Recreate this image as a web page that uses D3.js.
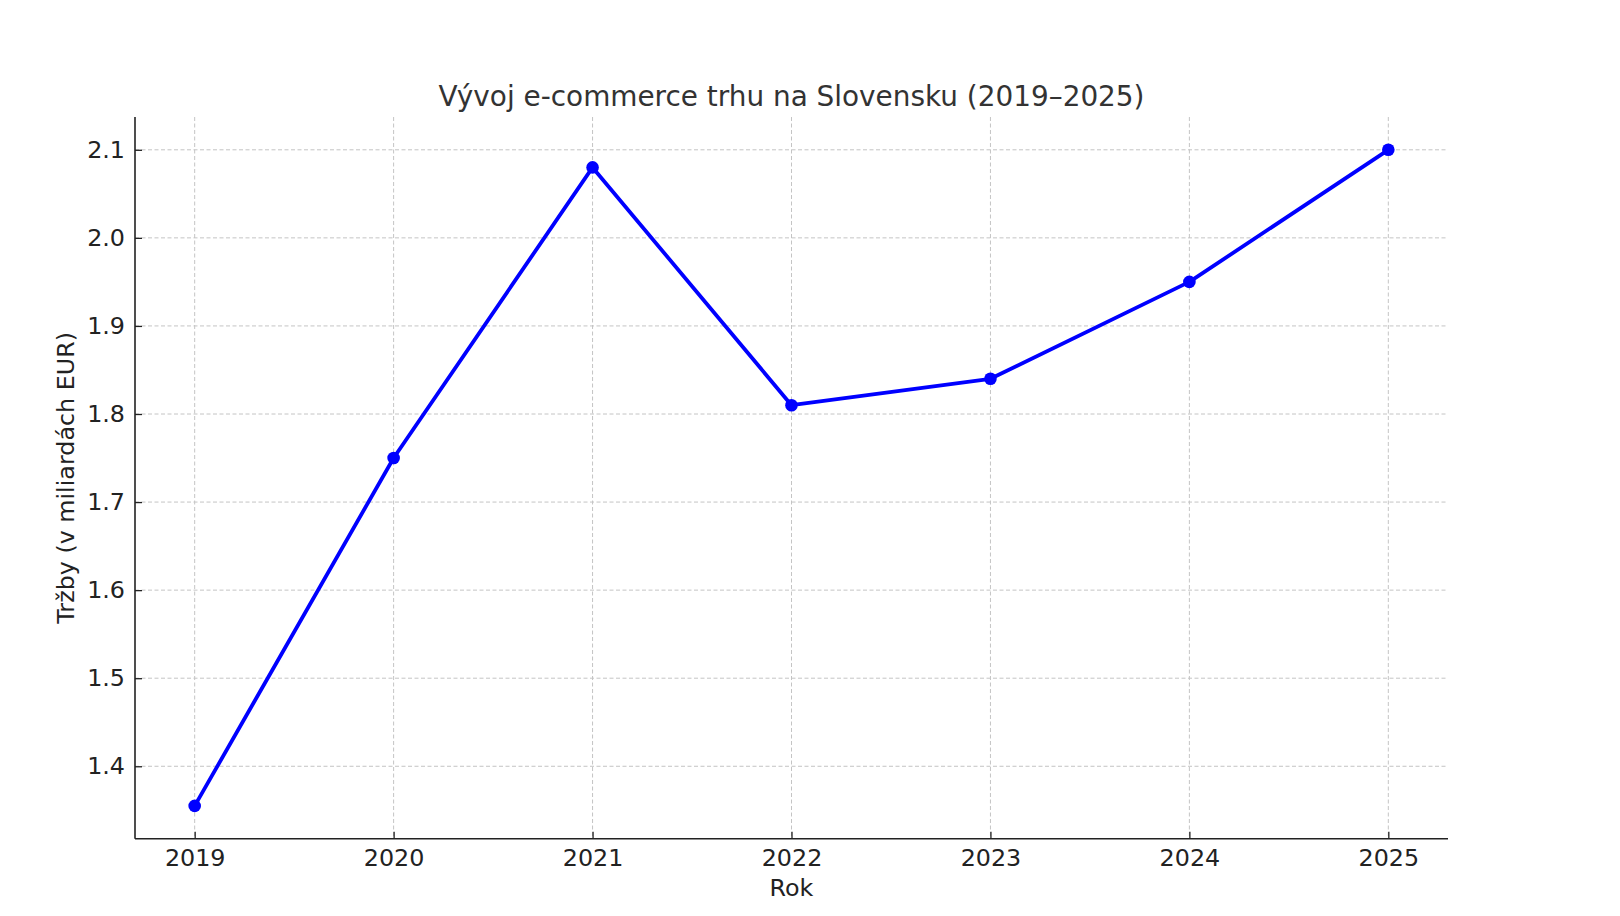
<!DOCTYPE html>
<html><head><meta charset="utf-8">
<script src="https://cdn.jsdelivr.net/npm/d3@7"></script>
<style>body{margin:0;background:#fff}svg{display:block}text{font-family:"DejaVu Sans",sans-serif}</style>
</head><body>
<script>
const years = [2019, 2020, 2021, 2022, 2023, 2024, 2025];
const revenue = [1.355, 1.75, 2.08, 1.81, 1.84, 1.95, 2.10];
const yTicks = [1.4, 1.5, 1.6, 1.7, 1.8, 1.9, 2.0, 2.1];
const title = "Vývoj e-commerce trhu na Slovensku (2019–2025)";
const xLabel = "Rok";
const yLabel = "Tržby (v miliardách EUR)";

const W = 1620, H = 916;
const L = 135, R = 1448, T = 117, B = 838.7;
const svg = d3.select("body").append("svg").attr("width", W).attr("height", H);

const yMin = d3.min(revenue), yMax = d3.max(revenue), pad = (yMax - yMin) * 0.05;
const x = d3.scaleLinear().domain([years[0] - 0.3, years[years.length - 1] + 0.3]).range([L, R]);
const y = d3.scaleLinear().domain([yMin - pad, yMax + pad]).range([B, T]);

// grid
const g = svg.append("g");
g.selectAll(".vg").data(years).enter().append("line")
  .attr("x1", d => x(d)).attr("x2", d => x(d)).attr("y1", T).attr("y2", B)
  .attr("stroke", "#c4c4c4").attr("stroke-width", 1).attr("stroke-dasharray", "4,2.5");
g.selectAll(".hg").data(yTicks).enter().append("line")
  .attr("x1", L).attr("x2", R).attr("y1", d => y(d)).attr("y2", d => y(d))
  .attr("stroke", "#c4c4c4").attr("stroke-width", 1).attr("stroke-dasharray", "4,2.5");

// axes
const xAxis = d3.axisBottom(x).tickValues(years).tickFormat(d3.format("d")).tickSizeInner(-7).tickSizeOuter(0).tickPadding(10);
const yAxis = d3.axisLeft(y).tickValues(yTicks).tickFormat(d3.format(".1f")).tickSizeInner(-7).tickSizeOuter(0).tickPadding(10);
const gx = svg.append("g").attr("transform", `translate(0,${B})`).call(xAxis);
const gy = svg.append("g").attr("transform", `translate(${L},0)`).call(yAxis);
[gx, gy].forEach(a => {
  a.select(".domain").attr("stroke", "#222").attr("stroke-width", 1.6);
  a.selectAll(".tick line").attr("stroke", "#222").attr("stroke-width", 1.3);
  a.selectAll(".tick text").attr("font-size", 23.8).attr("fill", "#222").attr("font-family", "DejaVu Sans");
});
gx.select(".domain").attr("d", `M${L},0H${R}`);
gy.select(".domain").attr("d", `M0,${T}V${B}`);

// line
const line = d3.line().x((d, i) => x(years[i])).y(d => y(d));
svg.append("path").datum(revenue).attr("d", line).attr("fill", "none")
  .attr("stroke", "#0000ff").attr("stroke-width", 3.8).attr("stroke-linejoin", "round");
svg.selectAll(".pt").data(revenue).enter().append("circle")
  .attr("cx", (d, i) => x(years[i])).attr("cy", d => y(d)).attr("r", 6.3).attr("fill", "#0000ff");

// texts
svg.append("text").attr("x", (L + R) / 2).attr("y", 106).attr("text-anchor", "middle")
  .attr("font-size", 27.9).attr("fill", "#333").text(title);
svg.append("text").attr("x", (L + R) / 2).attr("y", 896).attr("text-anchor", "middle")
  .attr("font-size", 23.8).attr("fill", "#222").text(xLabel);
svg.append("text").attr("transform", `translate(74,${(T + B) / 2}) rotate(-90)`).attr("text-anchor", "middle")
  .attr("font-size", 23.8).attr("fill", "#222").text(yLabel);
</script>
</body></html>
